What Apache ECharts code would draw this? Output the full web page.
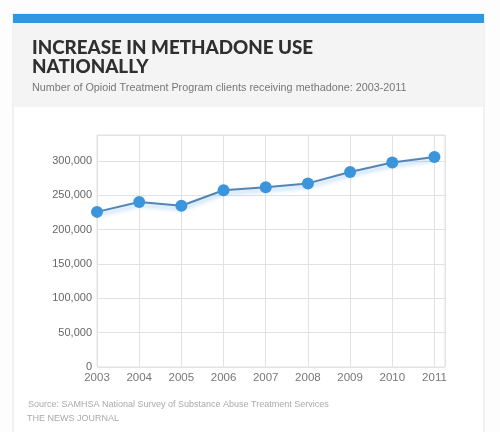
<!DOCTYPE html>
<html>
<head>
<meta charset="utf-8">
<script src="https://cdn.jsdelivr.net/npm/echarts@6/dist/echarts.min.js"></script>
<style>
html,body{margin:0;padding:0;background:#fdfdfd;}
#c{width:500px;height:432px;}
</style>
</head>
<body>
<div id="c"></div>
<script>
const years = [2003, 2004, 2005, 2006, 2007, 2008, 2009, 2010, 2011];
const clients = [226000, 240500, 235000, 257500, 262000, 267500, 284000, 298000, 306000];
const yTicks = [0, 50000, 100000, 150000, 200000, 250000, 300000];

const chart = echarts.init(document.getElementById('c'), null, {renderer: 'canvas'});
const fmt = v => v.toString().replace(/\B(?=(\d{3})+(?!\d))/g, ',');

chart.setOption({
  animation: false,
  backgroundColor: '#fdfdfd',
  graphic: [
    {type: 'rect', z: -10, shape: {x: 13, y: 14, width: 471, height: 430}, style: {fill: '#ffffff', stroke: '#e4e4e4', lineWidth: 1}},
    {type: 'rect', z: -9, shape: {x: 13.5, y: 22, width: 470, height: 85}, style: {fill: '#f4f4f4'}},
    {type: 'rect', z: -8, shape: {x: 13, y: 14, width: 471, height: 9}, style: {fill: '#2c98e2'}},
    {type: 'text', z: 5, left: 32, top: 38, style: {text: 'INCREASE IN METHADONE USE\nNATIONALLY', fill: '#2f2f2f', font: '900 18.8px Lato', lineHeight: 19}},
    {type: 'text', z: 5, left: 32, top: 83, style: {text: 'Number of Opioid Treatment Program clients receiving methadone: 2003-2011', fill: '#777777', font: '10.8px "Liberation Sans"'}},
    {type: 'text', z: 5, left: 28, top: 400, style: {text: 'Source: SAMHSA National Survey of Substance Abuse Treatment Services', fill: '#aaaaaa', font: '9px "Liberation Sans"'}},
    {type: 'text', z: 5, left: 27, top: 414, style: {text: 'THE NEWS JOURNAL', fill: '#aaaaaa', font: '9px "Liberation Sans"'}}
  ],
  grid: {left: 97, right: 55, top: 135, bottom: 65, show: true, borderColor: '#e2e2e2', borderWidth: 1, backgroundColor: 'transparent'},
  xAxis: {
    type: 'value', min: 2003, max: 2011.25, interval: 1,
    axisLine: {show: false}, axisTick: {show: false},
    splitLine: {show: true, lineStyle: {color: '#e2e2e2'}},
    axisLabel: {color: '#777', fontSize: 11.5, fontFamily: 'Liberation Sans', margin: 5,
      formatter: v => (Number.isInteger(v) && years.includes(v)) ? String(v) : ''}
  },
  yAxis: {
    type: 'value', min: 0, max: 338000, interval: 50000,
    axisLine: {show: false}, axisTick: {show: false},
    splitLine: {show: true, lineStyle: {color: '#e2e2e2'}},
    axisLabel: {color: '#666', fontSize: 11, fontFamily: 'Liberation Sans', margin: 5,
      formatter: v => yTicks.includes(v) ? fmt(v) : ''}
  },
  series: [{
    type: 'line',
    data: years.map((y, i) => [y, clients[i]]),
    symbol: 'circle', symbolSize: 12,
    lineStyle: {color: '#5585b3', width: 2, shadowColor: 'rgba(80,160,235,0.55)', shadowBlur: 4, shadowOffsetY: 3},
    itemStyle: {color: '#3a95dc'}
  }]
});
</script>
</body>
</html>
